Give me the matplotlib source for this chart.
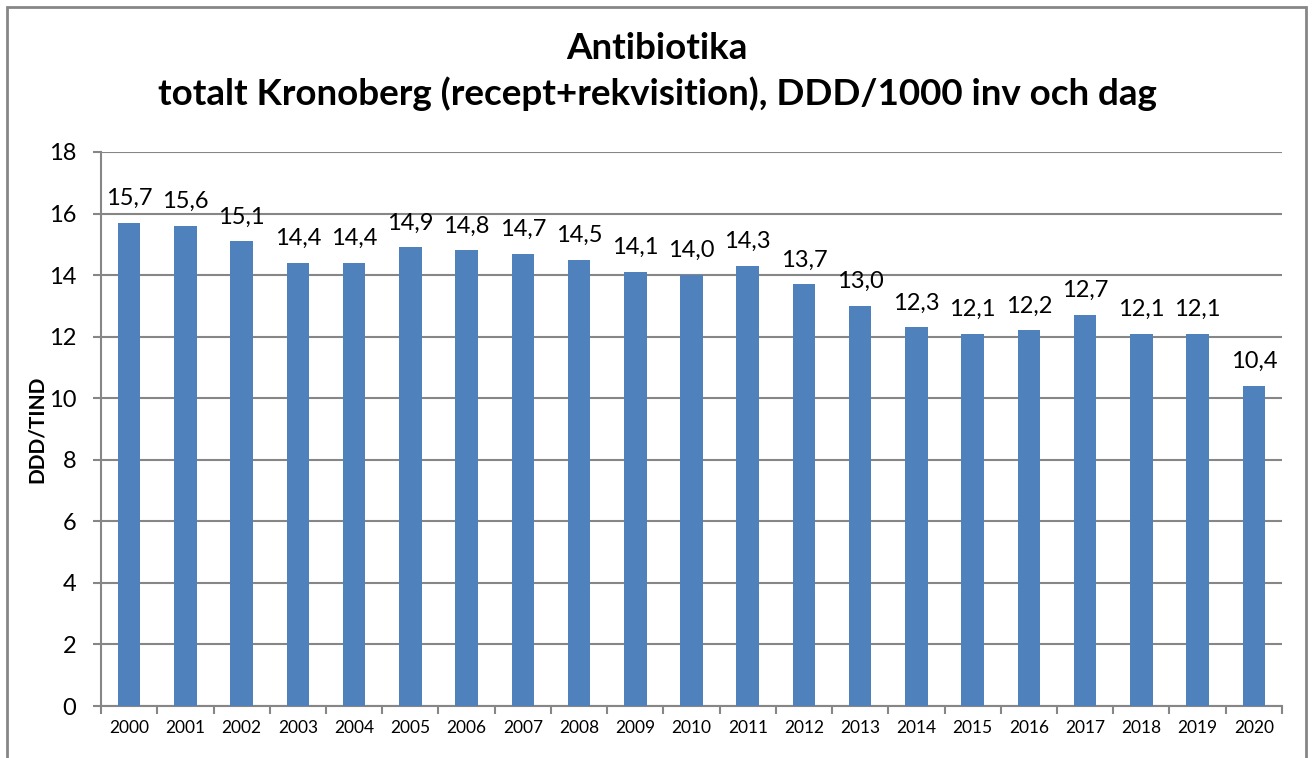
#!/usr/bin/env python3
# -*- coding: utf-8 -*-
import matplotlib
matplotlib.use("Agg")
import matplotlib.pyplot as plt
from matplotlib.patches import Rectangle
import numpy as np

years = [str(y) for y in range(2000, 2021)]
ddd = [15.7, 15.6, 15.1, 14.4, 14.4, 14.9, 14.8, 14.7, 14.5, 14.1, 14.0,
       14.3, 13.7, 13.0, 12.3, 12.1, 12.2, 12.7, 12.1, 12.1, 10.4]
yticks = [0, 2, 4, 6, 8, 10, 12, 14, 16, 18]

plt.rcParams['font.family'] = ['Lato', 'DejaVu Sans']
grey = "#868686"
bar_color = "#4f81bd"

fig = plt.figure(figsize=(13.14, 7.58), dpi=100)
ax = fig.add_axes([0.0769, 0.0686, 0.8987, 0.7309])

# outer chart frame
fig.patches.append(Rectangle((7 / 1314, -0.05), 1299 / 1314, 1.05 - 7 / 758,
                             transform=fig.transFigure, fill=False,
                             edgecolor=grey, linewidth=2))

x = np.arange(len(years))
ax.bar(x, ddd, width=0.4, color=bar_color, zorder=3)
for xi, v in zip(x, ddd):
    ax.text(xi, v + 0.45, "{:.1f}".format(v).replace(".", ","),
            ha="center", va="bottom", fontsize=17)

ax.set_xlim(-0.5, len(years) - 0.5)
ax.set_ylim(0, 18)
ax.set_yticks(yticks)
ax.set_yticklabels([str(t) for t in yticks], fontsize=17)
ax.set_xticks(x)
ax.set_xticklabels(years, fontsize=12.5)
ax.set_xticks(np.arange(-0.5, len(years)), minor=True)
ax.tick_params(axis="x", which="major", length=0, pad=10)
ax.tick_params(axis="x", which="minor", length=6, color=grey, width=1.5)
ax.tick_params(axis="y", length=6, color=grey, width=1.5, pad=12)

ax.grid(axis="y", color=grey, linewidth=1.5, zorder=0)
for side in ["top", "right"]:
    ax.spines[side].set_visible(False)
for side in ["left", "bottom"]:
    ax.spines[side].set_color(grey)
    ax.spines[side].set_linewidth(1.5)

ax.set_ylabel("DDD/TIND", fontsize=15, fontweight="bold", labelpad=1)

fig.text(0.5, 0.936, "Antibiotika", ha="center", va="center",
         fontsize=26.5, fontweight="bold")
fig.text(0.5, 0.877, "totalt Kronoberg (recept+rekvisition), DDD/1000 inv och dag",
         ha="center", va="center", fontsize=26.5, fontweight="bold")

fig.savefig("out.png", dpi=100)
